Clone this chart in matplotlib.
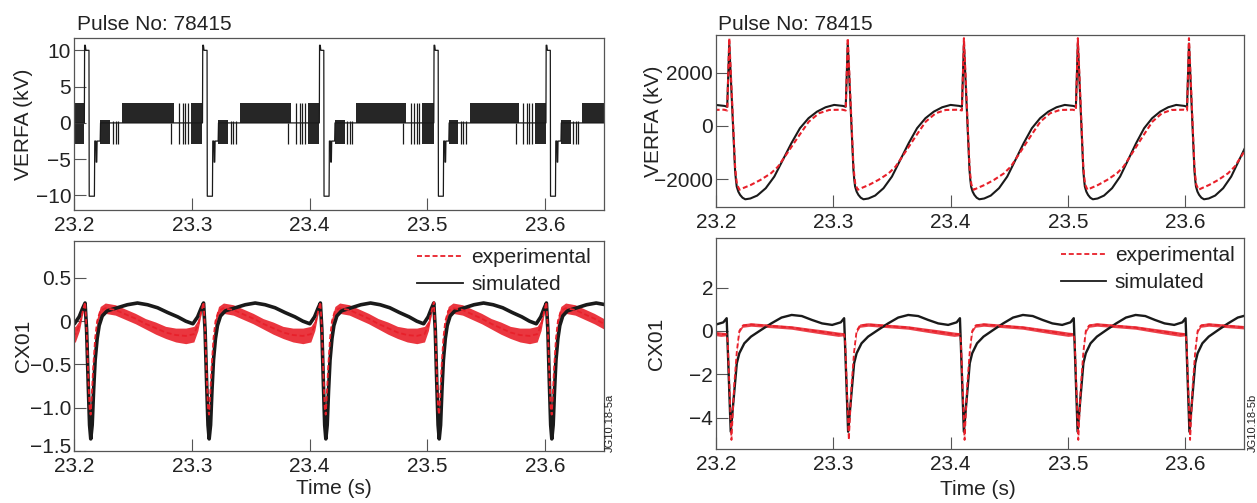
import numpy as np
import matplotlib.pyplot as plt
from matplotlib.lines import Line2D
from matplotlib.transforms import ScaledTranslation

plt.rcParams['font.family'] = ['Liberation Sans', 'DejaVu Sans']
plt.rcParams['lines.scale_dashes'] = False

pulse = "Pulse No: 78415"
xticks = [23.2, 23.3, 23.4, 23.5, 23.6]
xticklabels = ["23.2", "23.3", "23.4", "23.5", "23.6"]

# spike times
lt_spikes = [23.2088, 23.3091, 23.4083, 23.5055, 23.6007]
lb_spikes = [23.2094, 23.3100, 23.4092, 23.5055, 23.6011]
rt_spikes = [23.2113, 23.3123, 23.4113, 23.5084, 23.6031]
rb_spikes = [23.2091, 23.3092, 23.4079, 23.5049, 23.6002]

# left top: VERFA (kV), one cycle, ms after switch-on
lt_ms = [0.0, 0.2, 0.8, 1.3, 3.9, 4.1, 8.5, 8.8, 9.7, 10.0, 10.5, 10.8, 13.4, 13.7, 100.0]
lt_kv = [0.0, 10.7, 10.7, 10.0, 10.0, -10.1, -10.1, -2.5, -2.5, -5.4, -5.4, -2.5, -2.5, 0.0, 0.0]
# dense switching: start ms, end ms, low, high
lt_bands = [(13.6, 22.0, -2.9, 0.4), (32.0, 76.0, 0.0, 2.7), (90.0, 100.0, -2.9, 2.7)]
# isolated switching bars: ms, low, high
lt_bars = [(24.1, -2.9, 0.2), (26.4, -2.9, 0.2), (28.4, -2.9, 0.2), (73.0, -2.9, 0.0),
           (79.7, -2.9, 2.7), (83.1, -2.9, 2.7), (85.1, -2.9, 2.7), (87.4, -2.9, 2.7)]

# left bottom: CX01, ms after spike peak
lb_ms = [0, 1.3, 2.6, 3.8, 4.8, 6.0, 7.2, 8.5, 10.2, 11.9, 14.5, 18.7, 27.2, 35.7, 44.2,
         52.7, 61.2, 69.7, 78.2, 85.0, 91.0, 95.0, 98.0, 100]
lb_sim = [0.21, -0.10, -0.70, -1.20, -1.36, -1.20, -0.80, -0.45, -0.20, -0.05, 0.06, 0.12,
          0.155, 0.19, 0.21, 0.19, 0.155, 0.10, 0.05, 0.00, -0.03, 0.05, 0.15, 0.21]
lb_exp_ms = [0, 1.3, 2.6, 3.8, 4.7, 5.5, 6.8, 8.5, 10.2, 12.8, 17.0, 25.5, 34.0, 42.5, 51.0,
             59.5, 68.0, 76.5, 85.0, 91.8, 95.2, 97.8, 100]
lb_exp = [0.22, -0.10, -0.60, -1.00, -1.08, -0.90, -0.55, -0.20, 0.00, 0.12, 0.15, 0.13, 0.08,
          0.03, -0.03, -0.08, -0.13, -0.16, -0.17, -0.15, -0.05, 0.10, 0.22]
lb_exp_spread = [0.01, 0.01, 0.02, 0.02, 0.02, 0.02, 0.02, 0.03, 0.04, 0.05, 0.06, 0.06, 0.06,
                 0.06, 0.06, 0.07, 0.07, 0.08, 0.09, 0.09, 0.06, 0.03, 0.01]

# right top: VERFA (kV)
rt_ms = [0, 4.8, 5.5, 6.2, 7.5, 9.0, 11.0, 13.3, 17.5, 23.2, 30.3, 37.4, 44.5, 51.6, 58.7,
         65.8, 72.9, 80.0, 87.1, 94.5, 96.7, 98.4]
rt_sim = [3100, -1655, -2020, -2282, -2470, -2594, -2700, -2760, -2730, -2620, -2343, -1906,
          -1278, -650, -87, 290, 538, 702, 790, 752, 720, 3100]
rt_exp_ms = [0, 4.8, 5.6, 6.4, 8.5, 12.0, 18.0, 26.0, 34.7, 40.5, 49.0, 57.4, 66.0, 74.5, 83.0,
             94.0, 96.7, 98.4]
rt_exp = [3300, -1500, -1900, -2200, -2400, -2330, -2218, -2030, -1780, -1530, -966, -400, 160,
          477, 600, 610, 580, 3300]

# right bottom: CX01
rb_ms = [0, 3.4, 8.5, 10.6, 14.8, 20.4, 28.9, 37.4, 46.0, 54.5, 63.0, 71.5, 80.0, 88.5, 95.7, 98.5]
rb_sim = [0.59, -4.65, -1.49, -1.03, -0.57, -0.26, 0.05, 0.35, 0.62, 0.74, 0.69, 0.51, 0.35,
          0.28, 0.40, 0.59]
rb_exp_ms = [0, 0.9, 4.0, 6.3, 8.5, 10.6, 13.4, 20.4, 40.0, 54.5, 68.0, 81.0, 93.6, 98.5]
rb_exp = [-0.15, -0.5, -5.03, -2.5, -0.95, 0.0, 0.25, 0.30, 0.22, 0.16, 0.05, -0.05, -0.15, -0.15]
rb_exp_spread = [0.05, 0.03, 0.03, 0.03, 0.05, 0.07, 0.08, 0.08, 0.08, 0.08, 0.09, 0.1, 0.1, 0.07]


def cycles(spikes, period):
    s = [2 * spikes[0] - spikes[1]] + list(spikes) + [2 * spikes[-1] - spikes[-2]]
    return [(a, (b - a) / period) for a, b in zip(s[:-1], s[1:])]


def tile(spikes, ms, vals, period=None):
    ms = np.asarray(ms, float)
    vals = np.asarray(vals, float)
    if period is None:
        period = ms[-1]
    t, v = [], []
    for a, k in cycles(spikes, period):
        t.append(a + ms * k)
        v.append(vals)
    return np.concatenate(t), np.concatenate(v)


def style(ax, ylim, yticks, ylabels, ylabel, lx):
    ax.set_xlim(23.2, 23.65)
    ax.set_ylim(*ylim)
    ax.set_xticks(xticks)
    ax.set_xticklabels(xticklabels)
    ax.set_yticks(yticks)
    ax.set_yticklabels(ylabels)
    ax.tick_params(direction='in', length=8.5, width=0.8, color='#555555',
                   labelsize=15, labelcolor='#222222', pad=2)
    ax.tick_params(axis='x', pad=4)
    for sp in ax.spines.values():
        sp.set_color('#555555')
        sp.set_linewidth(0.9)
    ax.set_ylabel(ylabel, fontsize=15, color='#222222')
    ax.yaxis.set_label_coords(lx, 0.5)


W, H = 1257, 503
fig = plt.figure(figsize=(W / 100, H / 100), dpi=100)
ax_lt = fig.add_axes([74 / W, 1 - 210 / H, 530 / W, 172 / H])
ax_lb = fig.add_axes([74 / W, 1 - 451 / H, 530 / W, 210.3 / H])
ax_rt = fig.add_axes([716 / W, 1 - 207 / H, 528 / W, 172 / H])
ax_rb = fig.add_axes([716 / W, 1 - 449 / H, 528 / W, 210.7 / H])

red = '#e8202a'
ink = '#1a1a1a'
dash = (3.6, 2.0)

# left top
t, v = tile(lt_spikes, lt_ms, lt_kv)
ax_lt.plot(t, v, color=ink, lw=0.9)
for a, k in cycles(lt_spikes, 100.0):
    for s, e, lo, hi in lt_bands:
        ax_lt.fill_between([a + s * k, a + e * k], lo, hi, color='#262626', lw=0)
    for m, lo, hi in lt_bars:
        ax_lt.vlines(a + m * k, lo, hi, color=ink, lw=0.9)
style(ax_lt, (-12.0, 11.7), [-10, -5, 0, 5, 10], ['\u221210', '\u22125', '0', '5', '10'],
      'VERFA (kV)', -0.078)
ax_lt.text(0.005, 1 + 8 / 172, pulse, transform=ax_lt.transAxes, fontsize=15,
           color='#222222', va='baseline')

# left bottom
t, v = tile(lb_spikes, lb_ms, lb_sim)
ax_lb.plot(t, v, color=ink, lw=2.6, solid_joinstyle='round')
t, v = tile(lb_spikes, lb_exp_ms, lb_exp)
_, sp = tile(lb_spikes, lb_exp_ms, lb_exp_spread)
ax_lb.fill_between(t, v - sp, v + sp, color=red, alpha=0.9, lw=0)
ax_lb.plot(t, v, color=red, lw=1.3, dashes=dash)
style(ax_lb, (-1.5, 0.93), [-1.5, -1.0, -0.5, 0, 0.5],
      ['\u22121.5', '\u22121.0', '\u22120.5', '0', '0.5'], 'CX01', -0.078)
lbl = ax_lb.get_yticklabels()[0]
lbl.set_transform(lbl.get_transform() + ScaledTranslation(0, 4 / 72, fig.dpi_scale_trans))
ax_lb.set_xlabel('Time (s)', fontsize=15, color='#222222')
ax_lb.xaxis.set_label_coords(0.49, -0.135)

# right top
t, v = tile(rt_spikes, rt_ms, rt_sim)
ax_rt.plot(t, v, color=ink, lw=1.5)
t, v = tile(rt_spikes, rt_exp_ms, rt_exp, period=rt_ms[-1])
ax_rt.plot(t, v, color=red, lw=1.5, dashes=dash)
style(ax_rt, (-3050, 3420), [-2000, 0, 2000], ['\u22122000', '0', '2000'], 'VERFA (kV)', -0.1)
ax_rt.text(0.003, 1 + 5 / 172, pulse, transform=ax_rt.transAxes, fontsize=15,
           color='#222222', va='baseline')

# right bottom
t, v = tile(rb_spikes, rb_ms, rb_sim)
ax_rb.plot(t, v, color=ink, lw=1.7)
t, v = tile(rb_spikes, rb_exp_ms, rb_exp, period=rb_ms[-1])
_, sp = tile(rb_spikes, rb_exp_ms, rb_exp_spread, period=rb_ms[-1])
ax_rb.fill_between(t, v - sp, v + sp, color=red, alpha=0.85, lw=0)
ax_rb.plot(t, v, color=red, lw=1.3, dashes=dash)
style(ax_rb, (-5.45, 4.28), [-4, -2, 0, 2], ['\u22124', '\u22122', '0', '2'], 'CX01', -0.094)
ax_rb.set_xlabel('Time (s)', fontsize=15, color='#222222')
ax_rb.xaxis.set_label_coords(0.496, -0.145)

handles = [Line2D([], [], color=red, lw=1.3, dashes=dash),
           Line2D([], [], color=ink, lw=1.3)]
labels = ['experimental', 'simulated']
for ax, anchor in [(ax_lb, (0.975, 0.966)), (ax_rb, (0.982, 0.964))]:
    leg = ax.legend(handles, labels, loc='upper right', bbox_to_anchor=anchor, frameon=False,
                    fontsize=15, handlelength=2.2, handletextpad=0.4, labelspacing=0.4,
                    borderaxespad=0, borderpad=0)
    for txt in leg.get_texts():
        txt.set_color('#222222')

fig.text(610 / W, 1 - 452 / H, 'JG10.18-5a', rotation=90, fontsize=8, ha='center',
         va='bottom', color='#222222')
fig.text(1253 / W, 1 - 452 / H, 'JG10.18-5b', rotation=90, fontsize=8, ha='center',
         va='bottom', color='#222222')

fig.savefig('out.png', dpi=100)
